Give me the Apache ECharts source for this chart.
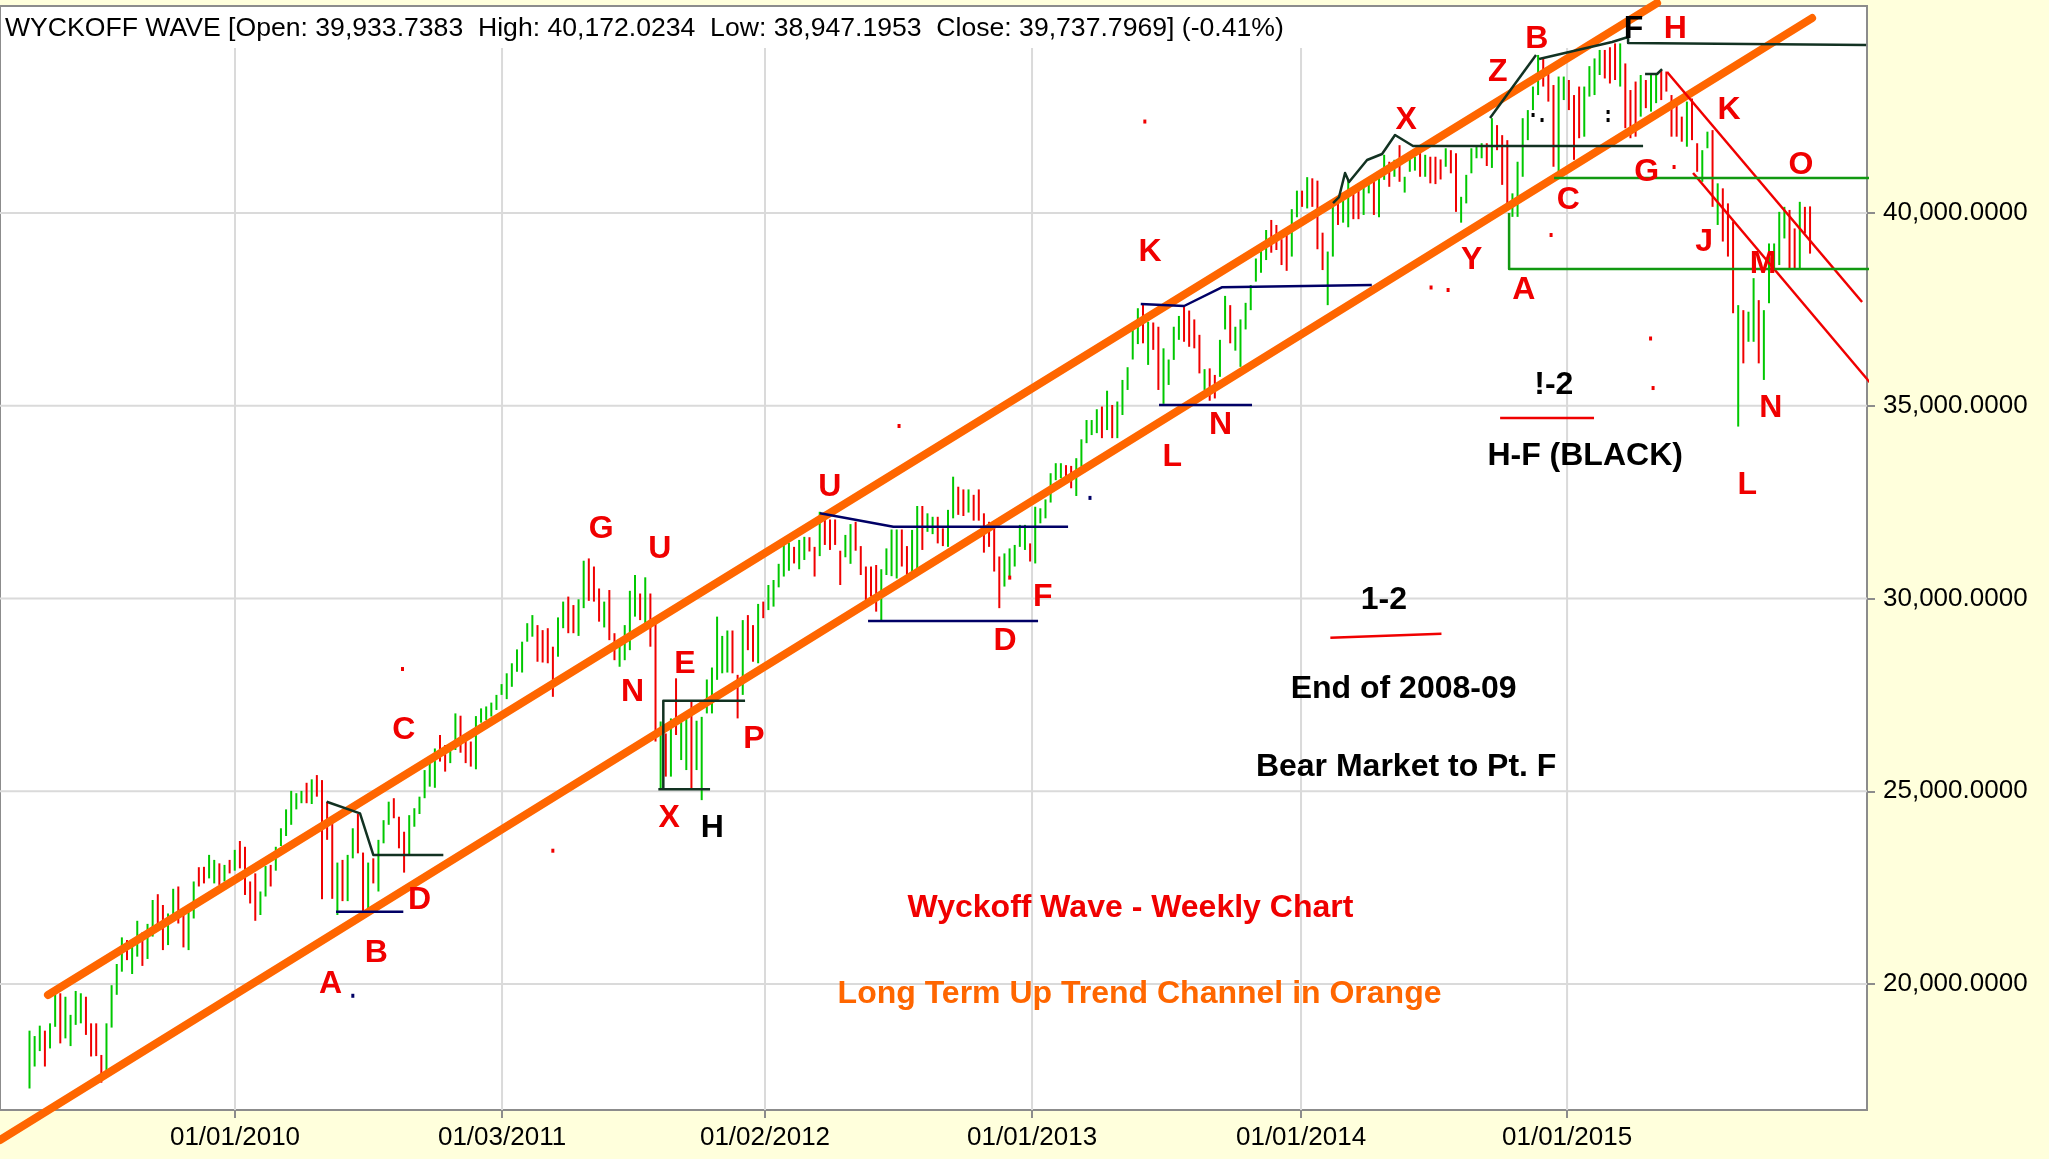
<!DOCTYPE html>
<html><head><meta charset="utf-8">
<script src="https://cdn.jsdelivr.net/npm/echarts@6.0.0/dist/echarts.min.js"></script>
<style>html,body{margin:0;padding:0;background:#FFFFDC;}#c{width:2049px;height:1159px;}</style>
</head><body><div id="c"></div>
<script>
// ---- weekly bars (index 0 = first week shown) ----
const highs = [
18790,18650,18920,18790,18980,19760,19760,19670,19200,19820,
19760,19670,18980,18980,18160,18980,19970,20520,21210,21140,
21060,21640,21340,21560,22180,22330,22050,21830,22470,22530,
21960,22010,22660,23030,23040,23350,23220,23130,23090,23220,
23480,23710,23560,22660,22870,22400,23060,23090,23560,24040,
24530,25010,24950,25010,25220,25310,25420,25290,24730,24170,
23150,23220,23350,24040,24410,23410,23150,23260,23740,24250,
24730,24820,24340,23950,24380,24560,24860,25550,25730,26110,
26460,26200,26110,27020,26960,26420,26290,26950,27150,27200,
27300,27500,27780,28060,28320,28680,28880,29360,29570,29310,
29180,29230,28750,29510,29920,30050,29830,29980,30980,31040,
30830,30260,29920,30220,29100,28850,29310,30200,30610,30130,
30550,30130,29360,26810,26500,26890,27930,26980,27020,27350,
26830,26930,27900,28210,29530,29030,29170,29170,28020,29440,
29570,29310,29860,29920,30350,30480,30900,31410,31450,31340,
31520,31600,31590,31340,32250,32120,32050,32050,31240,31650,
31930,31990,31360,30830,30830,30870,30760,31300,31790,31790,
31790,31360,31780,32400,32400,32210,32120,32120,31820,32300,
33160,32900,32830,32830,32690,32830,32210,31990,31820,31090,
31170,31300,31390,31910,31910,31430,32380,32340,32570,33250,
33510,33510,33460,33440,33640,34130,34630,34630,34910,34980,
35390,35020,35110,35670,36000,37010,37530,37640,37180,37160,
37050,36490,36200,37050,37330,37570,37470,37240,36840,35950,
35970,35800,36710,37850,37610,37050,37240,37670,38130,38820,
39040,39560,39820,39690,39320,39520,40100,40580,40580,40930,
40900,40840,39490,39000,40270,40420,40420,40860,40600,40770,
40680,40900,40860,41070,41510,41330,41380,41760,40940,41440,
41460,41630,41510,41460,41460,41390,41680,41630,41550,40420,
40990,41680,41760,41810,41810,42460,42280,42020,41890,40510,
41330,42460,42670,43280,44100,44010,43710,43320,43540,43540,
43450,43060,43280,43280,43810,44010,44230,44230,44300,44400,
44400,43880,43190,43410,43580,43450,43580,43580,43710,43670,
43060,42890,42500,42890,42970,41810,41630,42110,42150,40770,
40640,40250,39780,37610,37480,37440,38310,37740,37480,39210,
39210,40030,40160,40080,39600,40290,40160,40172];
const lows = [
17290,17860,18260,17860,18330,18890,18460,18590,18390,18940,
18980,18680,18120,18130,17440,17680,18870,19720,20320,20620,
20260,20710,20470,20650,21230,21440,20880,21010,21660,21570,
20950,20880,21700,22530,22610,22740,22610,22570,22660,22870,
22940,23000,22310,22090,21640,21790,22270,22530,22940,23580,
23840,24130,24530,24690,24690,24670,24860,22200,23740,22210,
21790,22150,22150,23260,23390,21880,21920,22610,22400,23650,
24130,24300,23520,22890,23350,24080,24410,24820,25120,25090,
25770,25510,25730,26070,26000,25730,25640,25570,26780,26850,
26940,27110,27500,27390,27710,28100,28080,28880,29010,28360,
28340,28320,27450,28490,29230,29100,29100,29030,29750,29940,
29920,29400,29250,28920,28400,28230,28400,28660,29530,29440,
29360,28750,26290,25080,25380,25380,26460,25810,25550,25050,
25550,24770,27020,27020,27890,28060,28080,28060,26890,27500,
28660,28360,28320,29490,29700,29790,30290,30570,30720,30910,
30760,31000,31220,30570,31100,31390,31260,31390,30350,31070,
30900,31240,30610,29960,30050,29660,29420,30610,30580,30520,
30830,30580,30650,30780,31260,31730,31670,31430,31360,31340,
32080,32170,32140,32230,32020,32020,31190,31340,30700,29750,
30310,30570,30830,31340,31260,30960,30910,31950,32080,32490,
33070,33120,33030,32860,32660,33420,34030,34240,34290,34160,
34370,34160,34160,34760,35410,36200,36600,36620,36060,36450,
35410,35050,35540,36190,36710,36660,36530,36490,35840,35410,
35130,35190,35750,36980,36620,36430,36010,36980,37480,38220,
38450,38780,38970,39040,38650,38500,38870,39890,40160,40120,
40160,39060,38520,37610,38870,39690,39750,39630,39840,39840,
39950,40510,39950,39890,40860,40680,40940,40810,40530,41070,
41100,40940,40940,40770,40750,40870,41200,41030,40030,39750,
40250,41030,41420,41420,41220,41170,41630,40730,40160,39900,
39900,40940,41890,42670,43060,43280,42890,41200,40900,42930,
42670,41380,41940,41980,43020,43060,43580,43490,43360,43450,
43280,42200,41940,41980,42500,42720,42630,42850,42930,43150,
41980,41980,41850,41720,41890,41070,40810,41680,40160,39690,
39260,38870,37400,34460,36100,36660,36660,36100,35670,37660,
38520,38650,39340,38570,38540,38570,39470,38947];
const ups = [
1,1,1,0,1,1,0,1,1,1, 1,0,0,0,0,1,1,1,1,0, 1,1,0,1,1,0,0,1,1,0, 0,1,1,0,0,1,1,0,1,0,
1,0,0,0,0,1,1,0,1,1, 1,1,1,1,0,1,0,0,0,0, 1,0,1,1,0,0,1,0,1,1, 1,0,0,0,1,1,1,1,1,1,
0,0,1,1,0,0,0,1,1,1, 1,1,1,1,1,1,1,1,1,0, 0,0,0,1,1,0,0,1,1,0, 0,0,1,0,0,1,1,1,1,0,
1,0,0,1,0,1,0,1,1,0, 1,1,1,1,1,1,1,0,0,1, 0,0,1,0,1,1,1,1,1,0, 1,1,0,0,1,0,0,0,0,1,
1,0,0,0,0,0,1,1,1,1, 0,0,1,1,0,1,1,0,0,1, 1,0,0,1,0,0,0,0,0,0, 1,1,1,1,1,0,1,1,1,1,
1,1,0,0,1,1,1,1,1,0, 1,0,1,1,1,1,1,0,1,0, 0,1,1,1,1,0,0,0,0,1, 0,0,1,1,0,1,1,1,1,1,
1,1,0,0,0,0,1,1,0,1, 0,0,0,1,1,0,1,1,0,0, 1,1,0,1,1,0,1,0,1,1, 1,0,1,0,0,0,1,0,0,1,
1,1,1,1,0,1,0,0,0,1, 1,1,1,1,1,0,0,0,1,1, 0,0,0,1,1,1,1,0,0,0, 1,0,0,0,1,0,1,1,0,0,
0,0,0,1,0,0,1,1,0,1, 0,0,0,1,0,1,1,0,1,1, 1,1,1,0,0,1,0,0];

// ---- x axis tick labels (position in bar index) ----
const tickPos = [40.05, 92.09, 143.34, 195.38, 247.80, 299.65];
const tickLabels = ['01/01/2010','01/03/2011','01/02/2012','01/01/2013','01/01/2014','01/01/2015'];
const yTicks = [20000, 25000, 30000, 35000, 40000];

// ---- drawn annotation lines: [barIndex, value] points ----
const orangeUpper = [[3.60,19715],[317.19,45447]];
const orangeLower = [[-5.75,15953],[347.40,45058]];
const blackLines = [
  [[57.92,24729],[64.41,24428],[67.0,23347],[80.65,23347]],
  [[123.52,25051],[123.52,27350],[139.45,27350]],
  [[122.55,25051],[132.63,25051]],
  [[254.04,40259],[255.21,40415],[256.38,41038],[257.16,40804],[260.67,41375],[263.59,41530],[266.12,42023],[269.63,41738],[314.46,41738]],
  [[284.64,42464],[293.6,44099]],
  [[294.19,43995],[308.42,44436],[311.54,44565],[311.54,44410],[357.93,44358]],
  [[314.85,43606],[317.19,43606],[318.16,43735]]
];
const navyLines = [
  [[59.73,21876],[72.85,21876]],
  [[154.06,32210],[168.35,31860],[202.4,31860]],
  [[163.42,29416],[196.55,29416]],
  [[216.57,37639],[225.01,37588],[232.35,38073],[261.59,38132]],
  [[220.13,35019],[238.25,35019]]
];
const redLines = [
  [[319.14,43658],[357.14,37691]],
  [[324.2,41038],[361.23,35201]],
  [[286.6,34682],[304.9,34682]],
  [[253.52,28983],[275.17,29084]]
];
const greenLines = [
  [[288.35,40000],[288.35,38547],[379.56,38547]],
  [[297.12,40908],[388.53,40908]]
];

// ---- text notes: [barIndex, value, text, colour key] ----
const notes = [
  [58.68,20000,'A','r'],[67.61,20813,'B','r'],[72.95,26576,'C','r'],[76.01,22169,'D','r'],
  [111.40,31795,'G','r'],[122.86,31287,'U','r'],[117.52,27559,'N','r'],[127.71,28303,'E','r'],
  [124.65,24304,'X','r'],[133.05,24033,'H','k'],[141.2,26340,'P','r'],[155.97,32882,'U','r'],
  [190.1,28882,'D','r'],[197.49,30034,'F','r'],[218.38,38983,'K','r'],[222.71,33660,'L','r'],
  [232.12,34509,'N','r'],[268.29,42407,'X','r'],[281.04,38778,'Y','r'],[286.12,43660,'Z','r'],
  [293.77,44508,'B','r'],[312.6,44781,'F','k'],[320.76,44781,'H','r'],[291.2,38000,'A','r'],
  [299.88,40340,'C','r'],[315.16,41051,'G','r'],[331.2,42677,'K','r'],[326.37,39253,'J','r'],
  [345.21,41253,'O','r'],[337.83,38677,'M','r'],[339.35,34949,'N','r'],[334.77,32949,'L','r'],
  [297.07,35525,'!-2','k'],[303.17,33694,'H-F (BLACK)','k'],[263.96,29966,'1-2','k'],
  [267.79,27660,'End of 2008-09','k'],[268.29,25627,'Bear Market to Pt. F','k'],
  [214.56,21967,'Wyckoff Wave - Weekly Chart','r'],
  [216.33,19728,'Long Term Up Trend Channel in Orange','o']
];
// small stray marks: [barIndex, value, colour key]
const dots = [
  [217.36,42373,'r'],[169.46,34475,'r'],[191.03,30542,'r'],[72.69,28171,'r'],[101.99,23458,'r'],
  [273.14,38068,'r'],[276.46,38003,'r'],[296.53,39429,'r'],[315.92,36745,'r'],[316.41,35460,'r'],
  [320.5,41193,'r'],[63.01,19695,'n'],[206.67,32610,'n'],
  [293.02,42542,'k'],[294.77,42412,'k'],[307.64,42620,'k'],[307.64,42412,'k']
];

const GREEN = '#00C800', RED = '#F00000', ORANGE = '#FF6600', NAVY = '#000066', DARK = '#123222', LGREEN = '#119911';
const COL = {r: RED, k: '#000000', o: ORANGE, n: NAVY};
const FONT = '"Liberation Sans", Arial, Helvetica, sans-serif';
const XMIN = -5.75, XMAX = 358.1, YMIN = 16732, YMAX = 45370;

const chart = echarts.init(document.getElementById('c'), null, {renderer: 'canvas', width: 2049, height: 1159});

function lineSeries(pts, color, width, z, cap) {
  return {type: 'line', data: pts, symbol: 'none', silent: true, animation: false, clip: false, z: z,
    lineStyle: {color: color, width: width, cap: cap || 'butt', join: 'round'}};
}

const series = [];
// grid lines (vertical start below the title band)
series.push({type: 'custom', z: 1, silent: true, animation: false, clip: false,
  data: tickPos.map(p => [p]),
  renderItem: (params, api) => {
    const top = api.coord([api.value(0), YMAX]);
    const bot = api.coord([api.value(0), YMIN]);
    return {type: 'line', shape: {x1: top[0], y1: top[1] + 42, x2: bot[0], y2: bot[1]},
      style: {stroke: '#dadada', lineWidth: 2}};
  }});
series.push({type: 'custom', z: 1, silent: true, animation: false, clip: false,
  data: yTicks.map(v => [XMIN, v]),
  renderItem: (params, api) => {
    const a = api.coord([XMIN, api.value(1)]);
    const b = api.coord([XMAX, api.value(1)]);
    return {type: 'line', shape: {x1: a[0], y1: a[1], x2: b[0], y2: b[1]},
      style: {stroke: '#dadada', lineWidth: 2}};
  }});
// weekly bars
series.push({type: 'custom', z: 2, silent: true, animation: false,
  data: highs.map((h, k) => [k, h, lows[k], ups[k]]),
  encode: {x: 0, y: [1, 2]},
  renderItem: (params, api) => {
    const i = api.value(0);
    const p1 = api.coord([i, api.value(1)]);
    const p2 = api.coord([i, api.value(2)]);
    return {type: 'line', shape: {x1: p1[0], y1: p1[1], x2: p2[0], y2: p2[1]},
      style: {stroke: api.value(3) ? GREEN : RED, lineWidth: 2}};
  }});
// stray dots
series.push({type: 'custom', z: 3, silent: true, animation: false,
  data: dots.map(d => [d[0], d[1]]),
  renderItem: (params, api) => {
    const p = api.coord([api.value(0), api.value(1)]);
    return {type: 'rect', shape: {x: p[0] - 1.5, y: p[1] - 2, width: 3, height: 4},
      style: {fill: COL[dots[params.dataIndex][2]] || DARK}};
  }});
series.push(lineSeries(orangeUpper, ORANGE, 8, 4, 'round'));
series.push(lineSeries(orangeLower, ORANGE, 8, 4, 'round'));
blackLines.forEach(l => series.push(lineSeries(l, DARK, 2.5, 5)));
navyLines.forEach(l => series.push(lineSeries(l, NAVY, 2.5, 5)));
redLines.forEach(l => series.push(lineSeries(l, RED, 2.5, 5)));
greenLines.forEach(l => series.push(lineSeries(l, LGREEN, 2.5, 5)));
// text notes
series.push({type: 'custom', z: 6, silent: true, animation: false,
  data: notes.map(n => [n[0], n[1]]),
  renderItem: (params, api) => {
    const n = notes[params.dataIndex];
    const p = api.coord([api.value(0), api.value(1)]);
    return {type: 'text', x: p[0], y: p[1],
      style: {text: n[2], fill: COL[n[3]], font: 'bold 32px ' + FONT, align: 'center', verticalAlign: 'middle'}};
  }});

chart.setOption({
  backgroundColor: '#FFFFDC',
  animation: false,
  title: {
    text: 'WYCKOFF WAVE [Open: 39,933.7383  High: 40,172.0234  Low: 38,947.1953  Close: 39,737.7969] (-0.41%)',
    left: 5, top: 15, padding: 0,
    textStyle: {fontSize: 26.6, fontWeight: 'normal', color: '#000', fontFamily: FONT}
  },
  grid: {left: 0, top: 6, right: 182, bottom: 49, show: true, backgroundColor: '#ffffff',
    borderColor: '#8c8c8c', borderWidth: 2, containLabel: false, outerBoundsMode: 'none'},
  xAxis: {
    type: 'value', min: XMIN, max: XMAX,
    axisLine: {show: true, onZero: false, lineStyle: {color: '#8c8c8c', width: 2}},
    axisTick: {show: true, customValues: tickPos, length: 8, lineStyle: {color: '#8c8c8c', width: 2}},
    axisLabel: {customValues: tickPos, margin: 15, fontSize: 26, color: '#000', fontFamily: FONT,
      formatter: v => {
        let best = 0;
        tickPos.forEach((p, k) => { if (Math.abs(p - v) < Math.abs(tickPos[best] - v)) best = k; });
        return tickLabels[best];
      }},
    splitLine: {show: false}
  },
  yAxis: {
    type: 'value', position: 'right', min: YMIN, max: YMAX, scale: true,
    axisLine: {show: true, onZero: false, lineStyle: {color: '#8c8c8c', width: 2}},
    axisTick: {show: true, customValues: yTicks, length: 8, lineStyle: {color: '#8c8c8c', width: 2}},
    axisLabel: {customValues: yTicks, margin: 16, fontSize: 26, color: '#000', fontFamily: FONT,
      padding: [5, 0, 0, 0],
      formatter: v => Number(v).toLocaleString('en-US', {minimumFractionDigits: 4, maximumFractionDigits: 4})},
    splitLine: {show: false}
  },
  series: series
});
</script>
</body></html>
